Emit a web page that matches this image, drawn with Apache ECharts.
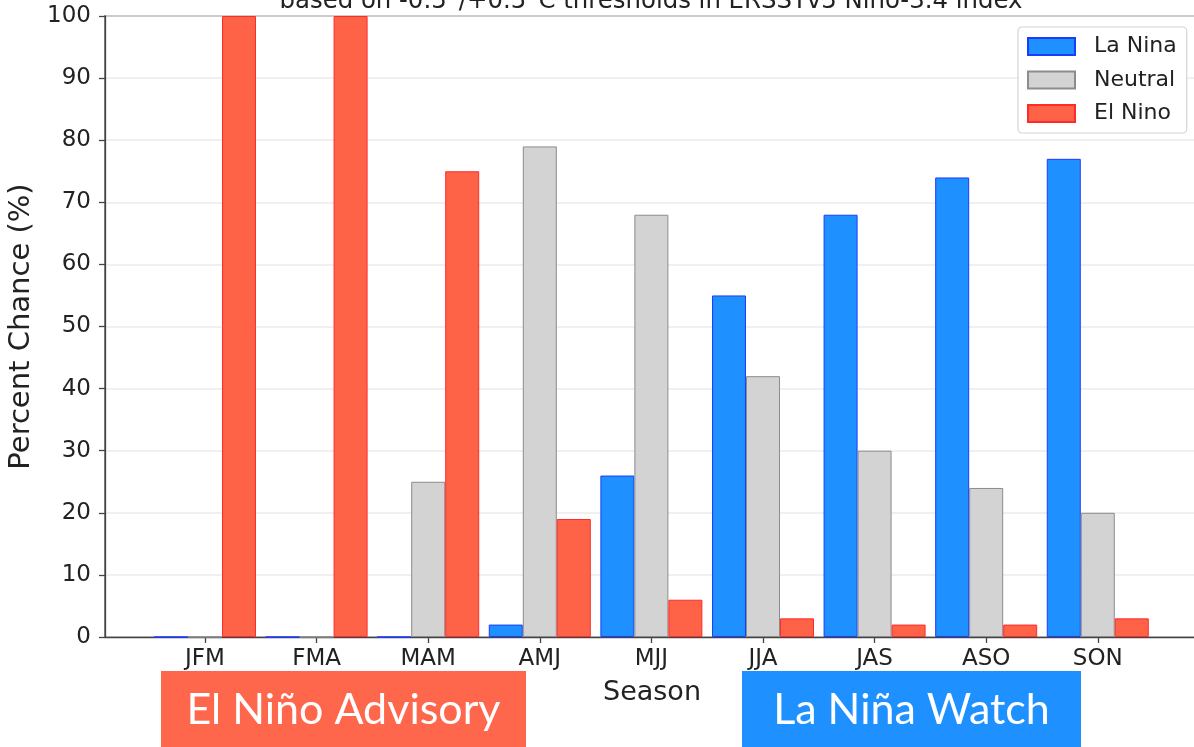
<!DOCTYPE html>
<html>
<head>
<meta charset="utf-8">
<title>ENSO probabilities by season</title>
<script src="https://cdn.jsdelivr.net/npm/echarts@6/dist/echarts.min.js"></script>
<style>
  html, body { margin: 0; padding: 0; background: #ffffff; }
  #chart { width: 1194px; height: 747px; }
</style>
</head>
<body>
<div id="chart"></div>
<script>
// Seasons (three-month windows) and forecast probabilities in percent
const seasons = ['JFM', 'FMA', 'MAM', 'AMJ', 'MJJ', 'JJA', 'JAS', 'ASO', 'SON'];
const laNina  = [0, 0, 0, 2, 26, 55, 68, 74, 77];
const neutral = [0, 0, 25, 79, 68, 42, 30, 24, 20];
const elNino  = [100, 100, 75, 19, 6, 3, 2, 2, 3];
const yTicks  = [0, 10, 20, 30, 40, 50, 60, 70, 80, 90, 100];

const titleText = 'based on -0.5\u00b0/+0.5\u00b0C thresholds in ERSSTv5 Ni\u00f1o-3.4 index';
const axisFont = 'DejaVu Sans';
const ink = '#222222';
const spine = '#444444';

const seasonIdx = seasons.map((_, i) => i);
const pairs = arr => arr.map((v, i) => [i, v]);

function barSeries(name, values, fill, edge) {
  return {
    name: name,
    type: 'bar',
    data: pairs(values),
    barWidth: 34,
    barGap: '0%',
    itemStyle: { color: fill, borderColor: edge, borderWidth: 1 },
    emphasis: { disabled: true }
  };
}

const chart = echarts.init(document.getElementById('chart'), null, { renderer: 'canvas' });

chart.setOption({
  animation: false,
  backgroundColor: '#ffffff',
  textStyle: { fontFamily: axisFont, color: ink },
  grid: {
    left: 105, top: 16, right: -5, bottom: 110,
    containLabel: false,
    outerBoundsMode: 'none',
    show: true,
    borderColor: spine,
    borderWidth: 1.3,
    backgroundColor: 'transparent'
  },
  legend: {
    orient: 'vertical',
    left: 1018,
    top: 27,
    padding: [8.5, 10, 8.5, 9],
    itemWidth: 47,
    itemHeight: 17,
    itemGap: 11.5,
    icon: 'rect',
    borderColor: '#d4d4d4',
    borderWidth: 1.2,
    borderRadius: 4,
    backgroundColor: '#ffffff',
    data: ['La Nina', 'Neutral', 'El Nino'],
    textStyle: {
      fontFamily: axisFont,
      fontSize: 22,
      lineHeight: 22,
      color: ink,
      padding: [0, 0, 0, 14]
    }
  },
  xAxis: {
    type: 'value',
    min: -0.896,
    max: 8.907,
    name: 'Season',
    nameLocation: 'middle',
    nameGap: 42,
    nameTextStyle: { fontFamily: axisFont, fontSize: 27, color: ink },
    axisLine: { show: true, onZero: false, lineStyle: { color: spine, width: 1.3 } },
    axisTick: { show: true, length: 6, customValues: seasonIdx, lineStyle: { color: spine, width: 1.3 } },
    axisLabel: {
      customValues: seasonIdx,
      margin: 11,
      fontFamily: axisFont,
      fontSize: 23,
      color: ink,
      formatter: v => seasons[Math.round(v)]
    },
    splitLine: { show: false }
  },
  yAxis: {
    type: 'value',
    min: 0,
    max: 100,
    interval: 10,
    name: 'Percent Chance (%)',
    nameLocation: 'middle',
    nameGap: 67.5,
    nameTextStyle: { fontFamily: axisFont, fontSize: 29, color: ink },
    axisLine: { show: true, onZero: false, lineStyle: { color: spine, width: 1.3 } },
    axisTick: { show: true, length: 6, customValues: yTicks, lineStyle: { color: spine, width: 1.3 } },
    axisLabel: {
      customValues: yTicks,
      margin: 14,
      fontFamily: axisFont,
      fontSize: 23,
      color: ink
    },
    splitLine: { show: true, lineStyle: { color: '#ebebeb', width: 1.5 } }
  },
  series: [
    barSeries('La Nina', laNina, '#1e90ff', '#1a3cff'),
    barSeries('Neutral', neutral, '#d3d3d3', '#8c8c8c'),
    barSeries('El Nino', elNino, '#ff6347', '#ff2a2a')
  ],
  graphic: [
    {
      type: 'text',
      x: 651,
      y: 1.5,
      silent: true,
      style: {
        text: titleText,
        fontFamily: axisFont,
        fontSize: 24.4,
        fill: ink,
        align: 'center',
        verticalAlign: 'middle'
      }
    },
    {
      type: 'rect',
      silent: true,
      shape: { x: 161, y: 671, width: 365, height: 76 },
      style: { fill: '#ff674d' }
    },
    {
      type: 'text',
      x: 343.5,
      y: 710,
      silent: true,
      style: {
        text: 'El Ni\u00f1o Advisory',
        fontFamily: 'Lato',
        fontSize: 43,
        fill: '#ffffff',
        align: 'center',
        verticalAlign: 'middle'
      }
    },
    {
      type: 'rect',
      silent: true,
      shape: { x: 742, y: 671, width: 339, height: 76 },
      style: { fill: '#1e90ff' }
    },
    {
      type: 'text',
      x: 911.5,
      y: 710,
      silent: true,
      style: {
        text: 'La Ni\u00f1a Watch',
        fontFamily: 'Lato',
        fontSize: 43,
        fill: '#ffffff',
        align: 'center',
        verticalAlign: 'middle'
      }
    }
  ]
});
</script>
</body>
</html>
